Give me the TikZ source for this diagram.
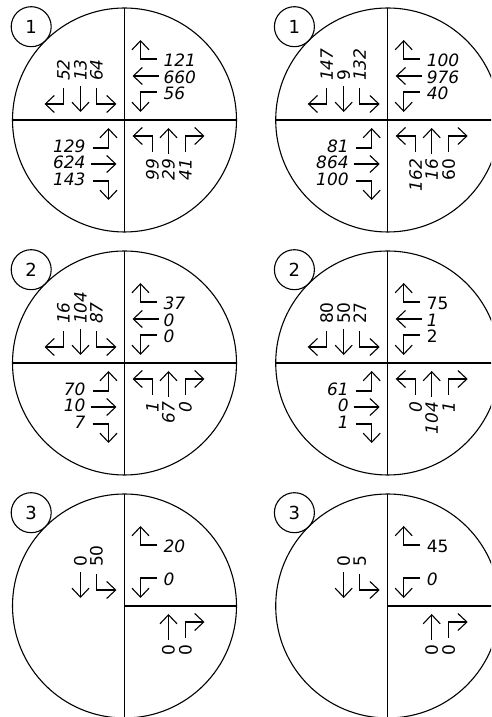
\documentclass[tikz,border=0pt]{standalone}
\usepackage{fontspec}
\newfontfamily\trafficfont{DejaVu Sans}
\usepackage{tikz}
\usetikzlibrary{arrows.meta}

\begin{document}
\begin{tikzpicture}[x=1pt,y=1pt, line width=1.1pt,
  mv/.style={-{Straight Barb[length=9pt,width=17pt]}},
  lbl/.style={inner sep=0pt, font=\trafficfont\fontsize{17}{18}\selectfont\itshape},
  lblup/.style={inner sep=0pt, font=\trafficfont\fontsize{17}{18}\selectfont},
  idnum/.style={circle, draw, minimum size=40pt, inner sep=0pt, font=\trafficfont\fontsize{18}{20}\selectfont}]
\useasboundingbox (0,0) rectangle (491,717);
\clip (0,0) rectangle (491,717);

\begin{scope}[shift={(124.5,597)}]
\draw (0,0) circle (112);
\draw (0,112) -- (0,-112);
\draw (-112,0) -- (112,0);
\node[idnum] (aid) at (-93.3,93.3) {1};
\draw[mv] (-61,32) -- (-61,16) -- (-80,16);
\draw[mv] (-44,34) -- (-44,8);
\draw[mv] (-28,32) -- (-28,16) -- (-8,16);
\node[lbl,rotate=90,anchor=west] (aTL1) at (-61,38.5) {52};
\node[lbl,rotate=90,anchor=west] (aTL2) at (-44,38.5) {13};
\node[lbl,rotate=90,anchor=west] (aTL3) at (-28,38.5) {64};
\draw[mv] (32,61) -- (16,61) -- (16,80);
\draw[mv] (34,44) -- (8,44);
\draw[mv] (32,28) -- (16,28) -- (16,8);
\node[lbl,anchor=west] (aTR1) at (38.5,59.5) {121};
\node[lbl,anchor=west] (aTR2) at (38.5,42.5) {660};
\node[lbl,anchor=west] (aTR3) at (38.5,26.5) {56};
\draw[mv] (-32,-28) -- (-16,-28) -- (-16,-8);
\draw[mv] (-34,-44) -- (-8,-44);
\draw[mv] (-32,-61) -- (-16,-61) -- (-16,-80);
\node[lbl,anchor=east] (aBL1) at (-38.5,-26.5) {129};
\node[lbl,anchor=east] (aBL2) at (-38.5,-42.5) {624};
\node[lbl,anchor=east] (aBL3) at (-38.5,-59.5) {143};
\draw[mv] (28,-32) -- (28,-16) -- (8,-16);
\draw[mv] (44,-34) -- (44,-8);
\draw[mv] (61,-32) -- (61,-16) -- (80,-16);
\node[lbl,rotate=90,anchor=east] (aBR1) at (28,-38.5) {99};
\node[lbl,rotate=90,anchor=east] (aBR2) at (44,-38.5) {29};
\node[lbl,rotate=90,anchor=east] (aBR3) at (61,-38.5) {41};
\end{scope}

\begin{scope}[shift={(387.7,597)}]
\draw (0,0) circle (112);
\draw (0,112) -- (0,-112);
\draw (-112,0) -- (112,0);
\node[idnum] (bid) at (-93.3,93.3) {1};
\draw[mv] (-61,32) -- (-61,16) -- (-80,16);
\draw[mv] (-44,34) -- (-44,8);
\draw[mv] (-28,32) -- (-28,16) -- (-8,16);
\node[lbl,rotate=90,anchor=west] (bTL1) at (-61,38.5) {147};
\node[lblup,rotate=90,anchor=west] (bTL2) at (-44,38.5) {9};
\node[lbl,rotate=90,anchor=west] (bTL3) at (-28,38.5) {132};
\draw[mv] (32,61) -- (16,61) -- (16,80);
\draw[mv] (34,44) -- (8,44);
\draw[mv] (32,28) -- (16,28) -- (16,8);
\node[lbl,anchor=west] (bTR1) at (38.5,59.5) {100};
\node[lbl,anchor=west] (bTR2) at (38.5,42.5) {976};
\node[lbl,anchor=west] (bTR3) at (38.5,26.5) {40};
\draw[mv] (-32,-28) -- (-16,-28) -- (-16,-8);
\draw[mv] (-34,-44) -- (-8,-44);
\draw[mv] (-32,-61) -- (-16,-61) -- (-16,-80);
\node[lbl,anchor=east] (bBL1) at (-38.5,-26.5) {81};
\node[lbl,anchor=east] (bBL2) at (-38.5,-42.5) {864};
\node[lbl,anchor=east] (bBL3) at (-38.5,-59.5) {100};
\draw[mv] (28,-32) -- (28,-16) -- (8,-16);
\draw[mv] (44,-34) -- (44,-8);
\draw[mv] (61,-32) -- (61,-16) -- (80,-16);
\node[lbl,rotate=90,anchor=east] (bBR1) at (28,-38.5) {162};
\node[lbl,rotate=90,anchor=east] (bBR2) at (44,-38.5) {16};
\node[lblup,rotate=90,anchor=east] (bBR3) at (61,-38.5) {60};
\end{scope}

\begin{scope}[shift={(124.5,354)}]
\draw (0,0) circle (112);
\draw (0,112) -- (0,-112);
\draw (-112,0) -- (112,0);
\node[idnum] (cid) at (-93.3,93.3) {2};
\draw[mv] (-61,32) -- (-61,16) -- (-80,16);
\draw[mv] (-44,34) -- (-44,8);
\draw[mv] (-28,32) -- (-28,16) -- (-8,16);
\node[lbl,rotate=90,anchor=west] (cTL1) at (-61,38.5) {16};
\node[lbl,rotate=90,anchor=west] (cTL2) at (-44,38.5) {104};
\node[lbl,rotate=90,anchor=west] (cTL3) at (-28,38.5) {87};
\draw[mv] (32,61) -- (16,61) -- (16,80);
\draw[mv] (34,44) -- (8,44);
\draw[mv] (32,28) -- (16,28) -- (16,8);
\node[lbl,anchor=west] (cTR1) at (38.5,59.5) {37};
\node[lbl,anchor=west] (cTR2) at (38.5,42.5) {0};
\node[lbl,anchor=west] (cTR3) at (38.5,26.5) {0};
\draw[mv] (-32,-28) -- (-16,-28) -- (-16,-8);
\draw[mv] (-34,-44) -- (-8,-44);
\draw[mv] (-32,-61) -- (-16,-61) -- (-16,-80);
\node[lbl,anchor=east] (cBL1) at (-38.5,-26.5) {70};
\node[lbl,anchor=east] (cBL2) at (-38.5,-42.5) {10};
\node[lbl,anchor=east] (cBL3) at (-38.5,-59.5) {7};
\draw[mv] (28,-32) -- (28,-16) -- (8,-16);
\draw[mv] (44,-34) -- (44,-8);
\draw[mv] (61,-32) -- (61,-16) -- (80,-16);
\node[lbl,rotate=90,anchor=east] (cBR1) at (28,-38.5) {1};
\node[lbl,rotate=90,anchor=east] (cBR2) at (44,-38.5) {67};
\node[lbl,rotate=90,anchor=east] (cBR3) at (61,-38.5) {0};
\end{scope}

\begin{scope}[shift={(387.7,354)}]
\draw (0,0) circle (112);
\draw (0,112) -- (0,-112);
\draw (-112,0) -- (112,0);
\node[idnum] (did) at (-93.3,93.3) {2};
\draw[mv] (-61,32) -- (-61,16) -- (-80,16);
\draw[mv] (-44,34) -- (-44,8);
\draw[mv] (-28,32) -- (-28,16) -- (-8,16);
\node[lblup,rotate=90,anchor=west] (dTL1) at (-61,38.5) {80};
\node[lblup,rotate=90,anchor=west] (dTL2) at (-44,38.5) {50};
\node[lblup,rotate=90,anchor=west] (dTL3) at (-28,38.5) {27};
\draw[mv] (32,61) -- (16,61) -- (16,80);
\draw[mv] (34,44) -- (8,44);
\draw[mv] (32,28) -- (16,28) -- (16,8);
\node[lblup,anchor=west] (dTR1) at (38.5,59.5) {75};
\node[lbl,anchor=west] (dTR2) at (38.5,42.5) {1};
\node[lblup,anchor=west] (dTR3) at (38.5,26.5) {2};
\draw[mv] (-32,-28) -- (-16,-28) -- (-16,-8);
\draw[mv] (-34,-44) -- (-8,-44);
\draw[mv] (-32,-61) -- (-16,-61) -- (-16,-80);
\node[lbl,anchor=east] (dBL1) at (-38.5,-26.5) {61};
\node[lbl,anchor=east] (dBL2) at (-38.5,-42.5) {0};
\node[lbl,anchor=east] (dBL3) at (-38.5,-59.5) {1};
\draw[mv] (28,-32) -- (28,-16) -- (8,-16);
\draw[mv] (44,-34) -- (44,-8);
\draw[mv] (61,-32) -- (61,-16) -- (80,-16);
\node[lbl,rotate=90,anchor=east] (dBR1) at (28,-38.5) {0};
\node[lbl,rotate=90,anchor=east] (dBR2) at (44,-38.5) {104};
\node[lbl,rotate=90,anchor=east] (dBR3) at (61,-38.5) {1};
\end{scope}

\begin{scope}[shift={(124.5,111)}]
\draw (0,0) circle (112);
\draw (0,112) -- (0,-112);
\draw (0,0) -- (112,0);
\node[idnum] (eid) at (-93.3,93.3) {3};
\draw[mv] (-44,34) -- (-44,8);
\draw[mv] (-28,32) -- (-28,16) -- (-8,16);
\node[lblup,rotate=90,anchor=west] (eTL2) at (-44,38.5) {0};
\node[lblup,rotate=90,anchor=west] (eTL3) at (-28,38.5) {50};
\draw[mv] (32,61) -- (16,61) -- (16,80);
\draw[mv] (32,28) -- (16,28) -- (16,8);
\node[lbl,anchor=west] (eTR1) at (38.5,59.5) {20};
\node[lbl,anchor=west] (eTR3) at (38.5,26.5) {0};
\draw[mv] (44,-34) -- (44,-8);
\draw[mv] (61,-32) -- (61,-16) -- (80,-16);
\node[lblup,rotate=90,anchor=east] (eBR2) at (44,-38.5) {0};
\node[lblup,rotate=90,anchor=east] (eBR3) at (61,-38.5) {0};
\end{scope}

\begin{scope}[shift={(387.7,111)}]
\draw (0,0) circle (112);
\draw (0,112) -- (0,-112);
\draw (0,0) -- (112,0);
\node[idnum] (fid) at (-93.3,93.3) {3};
\draw[mv] (-44,34) -- (-44,8);
\draw[mv] (-28,32) -- (-28,16) -- (-8,16);
\node[lblup,rotate=90,anchor=west] (fTL2) at (-44,38.5) {0};
\node[lblup,rotate=90,anchor=west] (fTL3) at (-28,38.5) {5};
\draw[mv] (32,61) -- (16,61) -- (16,80);
\draw[mv] (32,28) -- (16,28) -- (16,8);
\node[lblup,anchor=west] (fTR1) at (38.5,59.5) {45};
\node[lbl,anchor=west] (fTR3) at (38.5,26.5) {0};
\draw[mv] (44,-34) -- (44,-8);
\draw[mv] (61,-32) -- (61,-16) -- (80,-16);
\node[lblup,rotate=90,anchor=east] (fBR2) at (44,-38.5) {0};
\node[lblup,rotate=90,anchor=east] (fBR3) at (61,-38.5) {0};
\end{scope}
\end{tikzpicture}
\end{document}
